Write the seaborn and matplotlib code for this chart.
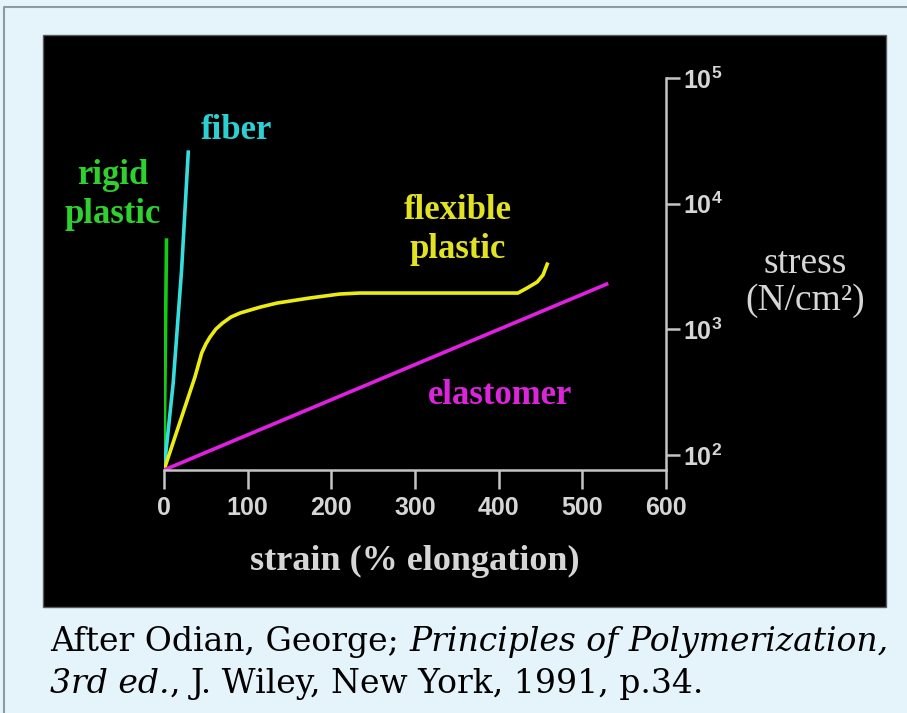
import matplotlib
matplotlib.use("Agg")
import matplotlib.pyplot as plt
import seaborn as sns
import pandas as pd
from matplotlib.patches import Rectangle
from matplotlib.lines import Line2D
from matplotlib.ticker import FixedLocator, NullLocator
from matplotlib import font_manager

# ---------------- data ----------------
rigid_x = [0, 3]
rigid_y = [76, 5130]
fiber_x = [0, 11, 21, 29]
fiber_y = [76, 374, 2950, 25700]
flex_x = [0, 37, 45, 50, 55, 62, 70, 80, 91, 115, 135, 174, 210, 234, 423, 434, 446, 453, 458]
flex_y = [76, 418, 647, 764, 869, 1005, 1122, 1253, 1349, 1503, 1618, 1775, 1910, 1945,
          1945, 2133, 2379, 2705, 3300]
elast_x = [0, 529]
elast_y = [76, 2290]

materials = ["rigid plastic", "fiber", "flexible plastic", "elastomer"]
x_ticks = [0, 100, 200, 300, 400, 500, 600]
x_tick_labels = ["0", "100", "200", "300", "400", "500", "600"]
y_ticks = [1e2, 1e3, 1e4, 1e5]
y_exponents = ["2", "3", "4", "5"]

caption_line1 = [("After Odian, George;", "normal"), (" ", "normal"),
                 ("Principles of Polymerization,", "italic")]
caption_line2 = [("3rd ed.", "italic"), (",", "normal"), (" ", "normal"),
                 ("J. Wiley, New York, 1991, p.34.", "normal")]

line_colors = {"rigid plastic": "#14cc14", "fiber": "#35dede",
               "flexible plastic": "#ecec10", "elastomer": "#e020e0"}
text_colors = {"rigid plastic": "#2ed12e", "fiber": "#2ccfd2",
               "flexible plastic": "#e2e222", "elastomer": "#dc24dc"}

rows = []
for name, xs, ys in [("rigid plastic", rigid_x, rigid_y), ("fiber", fiber_x, fiber_y),
                     ("flexible plastic", flex_x, flex_y), ("elastomer", elast_x, elast_y)]:
    for x, y in zip(xs, ys):
        rows.append({"material": name, "strain": x, "stress": y})
df = pd.DataFrame(rows)

# ---------------- fonts ----------------
names = {f.name for f in font_manager.fontManager.ttflist}
serif = "Liberation Serif" if "Liberation Serif" in names else "DejaVu Serif"
capfont = "DejaVu Serif"
narrow = "Liberation Sans Narrow" if "Liberation Sans Narrow" in names else (
    "Liberation Sans" if "Liberation Sans" in names else "DejaVu Sans")

plt.rcParams["mathtext.fontset"] = "custom"
plt.rcParams["mathtext.rm"] = narrow + ":bold"
plt.rcParams["mathtext.bf"] = narrow + ":bold"

W, H = 907, 713
fig = plt.figure(figsize=(W / 100, H / 100), dpi=100, facecolor="#e5f3fb")

# outer border (top & left) and black panel
fig.add_artist(Line2D([4 / W, 4 / W, 1], [0, 1 - 7 / H, 1 - 7 / H], transform=fig.transFigure,
                      color="#8c9aa4", lw=1.5, zorder=-2))
fig.add_artist(Rectangle((43 / W, 1 - 607 / H), 843 / W, 572 / H, transform=fig.transFigure,
                         facecolor="black", edgecolor="#5a5a5a", lw=1, zorder=-1))

ax = fig.add_axes([164 / W, 1 - 470 / H, 502 / W, 392 / H])
ax.patch.set_visible(False)

sns.lineplot(data=df, x="strain", y="stress", hue="material", hue_order=materials,
             palette=line_colors, estimator=None, sort=False, units="material",
             lw=2.6, legend=False, ax=ax)

ax.set_yscale("log")
ax.set_xlim(0, 600)
ax.set_ylim(76, 1e5)

for s in ["top", "left"]:
    ax.spines[s].set_visible(False)
for s in ["bottom", "right"]:
    ax.spines[s].set_color("#c4c4c4")
    ax.spines[s].set_linewidth(1.8)

ax.yaxis.tick_right()
ax.yaxis.set_major_locator(FixedLocator(y_ticks))
ax.yaxis.set_minor_locator(NullLocator())
ax.set_yticklabels([r"$\mathbf{10^{%s}}$" % e for e in y_exponents])
ax.set_xticks(x_ticks)
ax.set_xticklabels(x_tick_labels, fontfamily=narrow, fontweight="bold")

ax.tick_params(axis="x", direction="out", length=14, width=1.8, color="#c4c4c4",
               pad=5, labelcolor="#d6d6d6", labelsize=18)
ax.tick_params(axis="y", direction="out", length=10, width=1.8, color="#c4c4c4",
               pad=2, labelcolor="#d6d6d6", labelsize=18)

ax.set_xlabel("strain (% elongation)", fontsize=26, fontfamily=serif, fontweight="bold",
              color="#d6d6d6", labelpad=18)
ax.set_ylabel("")

# curve labels
ax.text(87, 38500, "fiber", color=text_colors["fiber"], fontsize=25, fontfamily=serif,
        fontweight="bold", ha="center", va="center")
ax.text(-61, 11700, "rigid\nplastic", color=text_colors["rigid plastic"], fontsize=25,
        fontfamily=serif, fontweight="bold", ha="center", va="center", linespacing=1.25)
ax.text(351, 6170, "flexible\nplastic", color=text_colors["flexible plastic"], fontsize=25,
        fontfamily=serif, fontweight="bold", ha="center", va="center", linespacing=1.25)
ax.text(402, 300, "elastomer", color=text_colors["elastomer"], fontsize=25,
        fontfamily=serif, fontweight="bold", ha="center", va="center")

fig.text(805 / W, 1 - 282 / H, "stress\n(N/cm²)", color="#d6d6d6", fontsize=27,
         fontfamily=serif, ha="center", va="center", linespacing=1.1)

# ---------------- caption: sequential pieces, fitted to panel width ----------------
renderer = fig.canvas.get_renderer()


def text_width(s, size, style):
    t = fig.text(0, 0, s, fontsize=size, fontfamily=capfont, fontstyle=style)
    w = t.get_window_extent(renderer).width
    t.remove()
    return w


def piece_width(s, size, style):
    if s == " ":
        return text_width("x x", size, style) - text_width("xx", size, style)
    return text_width("|" + s + "|", size, style) - text_width("||", size, style)


base = 20
w1 = sum(piece_width(s, base, st) for s, st in caption_line1)
size = base * 836 / w1


def draw_line(pieces, y_px):
    x = 50
    for s, st in pieces:
        w = piece_width(s, size, st)
        if s != " ":
            fig.text(x / W, 1 - y_px / H, s, fontsize=size, fontfamily=capfont, fontstyle=st,
                     color="#000000", ha="left", va="baseline")
        x += w


draw_line(caption_line1, 651)
draw_line(caption_line2, 693)

fig.savefig("out.png", dpi=100, facecolor=fig.get_facecolor())
